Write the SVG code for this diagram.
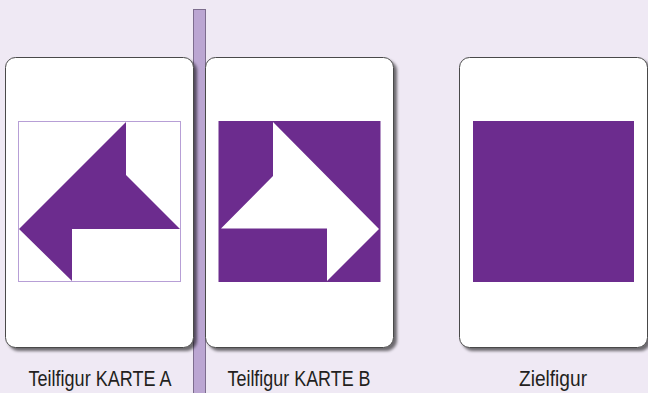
<svg xmlns="http://www.w3.org/2000/svg" width="648" height="393" viewBox="0 0 648 393">
<defs>
<filter id="sh" x="-10%" y="-10%" width="125%" height="125%">
<feGaussianBlur in="SourceAlpha" stdDeviation="1.6"/>
<feOffset dx="2.5" dy="3" result="b"/>
<feComponentTransfer><feFuncA type="linear" slope="0.55"/></feComponentTransfer>
<feMerge><feMergeNode/><feMergeNode in="SourceGraphic"/></feMerge>
</filter>
<style>
.card{fill:#ffffff;stroke:#4a4a4a;stroke-width:1;filter:url(#sh)}
.pur{fill:#6c2c8e}
.lbl{font-family:"Liberation Sans",Arial,sans-serif;font-size:22px;fill:#231f20;text-anchor:middle}
</style>
</defs>
<rect width="648" height="393" fill="#efe9f4"/>
<rect x="193.5" y="9.5" width="12" height="390" fill="#bba6d2" stroke="#7d6d8e" stroke-width="1"/>
<g id="cardA">
<rect class="card" x="5.5" y="57.5" width="188" height="290" rx="10"/>
<rect x="18.5" y="121.5" width="162" height="160" fill="#ffffff" stroke="#b79fd6" stroke-width="1"/>
<polygon class="pur" points="126,122 126,175 180,229 72,229 72,281 19,229"/>
<text class="lbl" x="100" y="386" textLength="143" lengthAdjust="spacingAndGlyphs">Teilfigur KARTE A</text>
</g>
<g id="cardB">
<rect class="card" x="205.5" y="57.5" width="188" height="290" rx="10"/>
<rect class="pur" x="218.5" y="121" width="162" height="161"/>
<polygon fill="#ffffff" points="273,122 273,176 221,228.5 327,228.5 327,281 379,229"/>
<text class="lbl" x="299" y="386" textLength="143" lengthAdjust="spacingAndGlyphs">Teilfigur KARTE B</text>
</g>
<g id="cardC">
<rect class="card" x="459.5" y="57.5" width="188" height="290" rx="10"/>
<rect class="pur" x="473" y="121" width="161" height="161"/>
<text class="lbl" x="553" y="386" textLength="68" lengthAdjust="spacingAndGlyphs">Zielfigur</text>
</g>
</svg>
